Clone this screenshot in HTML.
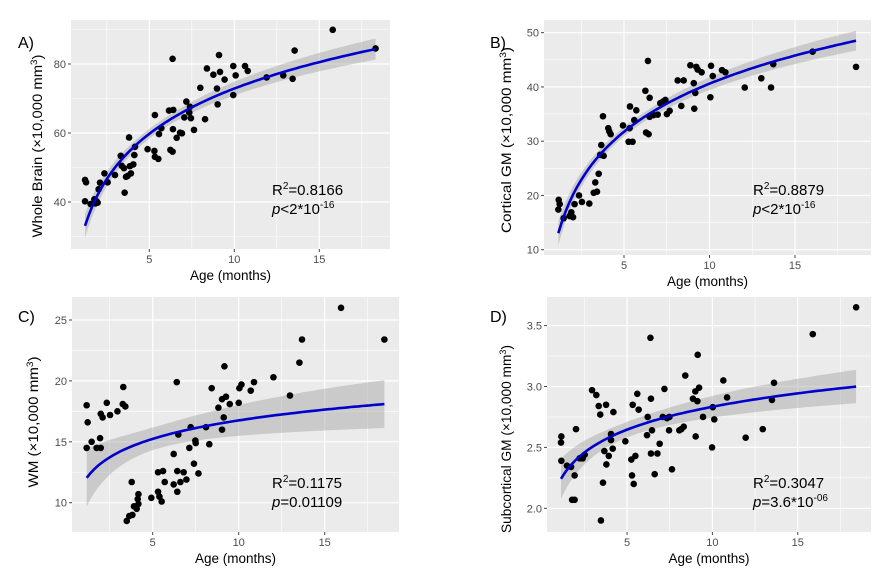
<!DOCTYPE html>
<html><head><meta charset="utf-8"><style>
body{margin:0;background:#fff;}
svg{display:block;font-family:"Liberation Sans",Arial,sans-serif;}
</style></head><body>
<svg id="fig" width="894" height="571" viewBox="0 0 894 571"></svg>
<script>
// Panel A: whole brain
const ageA=[1.22,1.28,1.22,1.55,1.77,1.83,1.90,1.96,2.02,2.10,2.36,2.55,2.98,3.32,3.38,3.51,3.55,3.63,3.73,3.81,3.86,3.92,4.06,4.12,4.16,4.90,5.33,5.30,5.33,5.53,5.57,5.71,6.16,6.24,6.37,6.37,6.39,6.41,6.61,6.81,6.92,7.06,7.18,7.35,7.39,7.45,7.63,8.00,8.28,8.39,8.77,8.98,9.02,9.10,9.16,9.43,9.94,9.94,10.08,10.63,10.79,11.90,12.88,13.43,13.55,15.79,18.31];
const valA=[46.4,45.7,40.2,39.4,40.8,39.6,40.2,39.8,43.7,45.6,48.3,45.7,47.8,53.4,50.5,49.8,42.7,47.3,47.6,58.7,50.4,48.3,50.9,53.6,56.0,55.3,65.2,54.8,53.1,52.5,59.7,61.4,66.5,55.1,54.6,81.5,61.1,66.7,58.6,60.1,59.9,64.5,69.1,65.9,67.6,64.3,60.9,73.1,64.0,78.7,76.9,72.9,68.3,82.6,77.7,75.5,79.4,71.0,76.7,79.4,78.0,76.1,76.7,75.7,83.9,89.9,84.5];
// Panel B: cortical GM
const ageB=[1.18,1.24,1.16,1.47,1.82,1.92,2.02,2.11,2.37,2.54,2.97,3.23,3.32,3.42,3.52,3.61,3.67,3.81,3.77,4.08,4.14,4.22,4.94,5.33,5.35,5.27,5.50,5.60,5.72,6.25,6.29,6.40,6.44,6.50,6.50,6.73,6.97,7.12,7.28,7.42,7.51,7.67,8.14,8.35,8.49,8.88,9.08,9.11,9.17,9.23,9.31,9.54,10.05,10.09,10.19,10.73,10.93,12.06,13.03,13.60,13.73,16.03,18.57];
const valB=[19.2,18.4,17.4,15.8,16.2,16.9,16.0,18.4,20.0,18.8,18.5,20.5,22.4,20.7,24.0,27.5,29.3,27.3,34.6,32.4,31.8,31.3,32.9,32.4,36.4,29.9,29.9,33.9,35.7,39.3,31.6,44.8,31.3,38.0,34.5,34.8,34.9,37.0,37.3,37.6,35.0,35.6,41.2,36.5,41.2,44.0,40.7,36.0,38.9,43.7,43.2,42.7,38.1,43.9,42.0,43.1,42.7,39.9,41.6,39.9,44.2,46.5,43.7];
// Panel C: WM
const ageC=[1.16,1.22,1.16,1.45,1.74,1.94,1.98,1.98,2.09,2.33,2.52,2.95,3.29,3.26,3.41,3.49,3.64,3.78,3.82,3.91,4.07,4.13,4.17,4.17,4.92,5.31,5.31,5.39,5.52,5.60,5.70,6.22,6.22,6.40,6.43,6.43,6.49,6.61,6.80,6.96,7.13,7.21,7.40,7.48,7.50,7.66,8.10,8.29,8.43,8.82,9.03,9.03,9.13,9.17,9.26,9.48,10.00,10.04,10.16,10.70,10.89,12.02,12.98,13.53,13.68,15.95,18.47];
const valC=[18.0,16.6,14.5,15.0,14.5,15.3,17.3,14.5,17.0,18.2,17.2,17.5,19.5,18.1,17.9,8.5,8.9,11.7,9.0,9.7,9.5,10.3,10.7,9.9,10.4,12.5,10.9,10.5,10.1,12.6,11.7,14.0,11.5,19.9,12.6,10.9,15.6,11.7,12.5,11.9,14.5,16.2,13.2,15.1,14.9,12.4,16.2,14.8,19.4,17.8,18.5,16.0,17.0,21.2,18.7,18.1,18.2,19.4,19.7,19.2,19.9,20.3,18.8,21.5,23.4,26.0,23.4];
// Panel D: subcortical GM
const ageD=[1.15,1.13,1.15,1.48,1.72,1.78,1.93,1.93,2.01,2.22,2.40,2.52,2.95,3.20,3.34,3.43,3.47,3.59,3.67,3.77,3.79,3.93,4.06,4.06,4.16,4.20,4.90,5.25,5.29,5.33,5.39,5.49,5.60,5.68,6.17,6.21,6.37,6.40,6.40,6.46,6.62,6.78,6.91,7.19,7.09,7.34,7.46,7.48,7.63,8.06,8.18,8.32,8.41,8.86,9.00,9.02,9.12,9.14,9.22,9.45,9.98,10.02,10.11,10.64,10.86,11.95,12.95,13.49,13.61,15.88,18.42];
const valD=[2.59,2.54,2.39,2.35,2.34,2.07,2.07,2.27,2.65,2.41,2.41,2.44,2.97,2.93,2.84,2.77,1.90,2.21,2.47,2.85,2.36,2.43,2.61,2.56,2.49,2.79,2.55,2.40,2.27,2.85,2.20,2.43,2.94,2.81,2.60,2.75,3.40,2.90,2.45,2.64,2.28,2.45,2.53,2.98,2.75,2.74,2.64,2.75,2.32,2.64,2.65,2.67,3.09,2.90,2.96,2.59,2.88,3.26,2.99,2.75,2.50,2.83,2.73,3.05,2.91,2.58,2.65,2.89,3.03,3.43,3.65];
const xTicks=[5,10,15];
const yTicksA=[40,60,80], yTicksB=[10,20,30,40,50], yTicksC=[10,15,20,25], yTicksD=[2.0,2.5,3.0,3.5];
const yLabelsD=["2.0","2.5","3.0","3.5"];
const NS="http://www.w3.org/2000/svg";
const fig=document.getElementById('fig');
function mk(tag,attrs,parent){const e=document.createElementNS(NS,tag);for(const k in attrs)e.setAttribute(k,attrs[k]);(parent||fig).appendChild(e);return e;}

function panel(cfg){
  const g=mk('g',{});
  
  
  const {L,R,T,B,x0,xpm,yRef,yRefPx,ypu}=cfg;
  const sx=v=>x0+v*xpm, sy=v=>yRefPx-(v-yRef)*ypu;
  const bg=mk('rect',{x:L,y:T,width:R-L,height:B-T,fill:'#ebebeb'},g);
  
  
  const yMax=yRef+(yRefPx-T)/ypu;
  const step=cfg.yt[1]-cfg.yt[0];
  for(let v=2.5;v<20;v+=5){const x=sx(v);if(x>L&&x<R)mk('line',{x1:x,x2:x,y1:T,y2:B,stroke:'#fff','stroke-width':0.6},g);}
  for(let v=cfg.yt[0]-step*3;v<yMax+step;v+=step){const y=sy(v+step/2);if(y>T&&y<B)mk('line',{x1:L,x2:R,y1:y,y2:y,stroke:'#fff','stroke-width':0.6},g);}
  xTicks.forEach(v=>{const x=sx(v);
    mk('line',{x1:x,x2:x,y1:T,y2:B,stroke:'#fff','stroke-width':1.2},g);
    mk('line',{x1:x,x2:x,y1:B,y2:B+3,stroke:'#444','stroke-width':1},g);
    const t=mk('text',{x:x,y:B+14,'text-anchor':'middle','font-size':11,fill:'#4d4d4d'},g);t.textContent=v;
    
    });
  cfg.yt.forEach((v,i)=>{const y=sy(v);
    mk('line',{x1:L,x2:R,y1:y,y2:y,stroke:'#fff','stroke-width':1.2},g);
    mk('line',{x1:L-3,x2:L,y1:y,y2:y,stroke:'#444','stroke-width':1},g);
    const t=mk('text',{x:L-5,y:y+4,'text-anchor':'end','font-size':11,fill:'#4d4d4d'},g);t.textContent=cfg.yl?cfg.yl[i]:v;
    
    });
  const xs=cfg.ages, ys=cfg.vals, n=xs.length;
  const lx=xs.map(Math.log);
  const mx=lx.reduce((s,v)=>s+v,0)/n, my=ys.reduce((s,v)=>s+v,0)/n;
  let sxx=0,sxy=0;for(let i=0;i<n;i++){sxx+=(lx[i]-mx)**2;sxy+=(lx[i]-mx)*(ys[i]-my);}
  const b=sxy/sxx,a=my-b*mx;
  let sse=0;for(let i=0;i<n;i++)sse+=(ys[i]-a-b*lx[i])**2;
  const s=Math.sqrt(sse/(n-2)), tq=1.99;
  const xmin=Math.min(...xs), xmax=Math.max(...xs);
  const up=[],lo=[],ln=[];
  for(let k=0;k<=80;k++){const x=xmin+(xmax-xmin)*k/80, l=Math.log(x);
    const f=a+b*l, se=s*Math.sqrt(1/n+(l-mx)**2/sxx);
    ln.push(sx(x).toFixed(1)+','+sy(f).toFixed(1));
    up.push(sx(x).toFixed(1)+','+sy(f+tq*se).toFixed(1));
    lo.unshift(sx(x).toFixed(1)+','+sy(f-tq*se).toFixed(1));}
  const band=mk('polygon',{points:up.concat(lo).join(' '),fill:'#999','fill-opacity':0.4},g);
  
  
  for(let i=0;i<n;i++){const c=mk('circle',{cx:sx(xs[i]),cy:sy(ys[i]),r:3.3,fill:'#000'},g);
    
    }
  const fl=mk('polyline',{points:ln.join(' '),fill:'none',stroke:'#0000cd','stroke-width':2.6},g);
  
  
  const xt=mk('text',{x:(L+R)/2,y:B+31,'text-anchor':'middle','font-size':13.5,fill:'#000'},g);xt.textContent='Age (months)';
  
  
  const yt=mk('text',{x:0,y:0,'text-anchor':'middle','font-size':13.5,fill:'#000',textLength:cfg.ytl,lengthAdjust:'spacingAndGlyphs',transform:`translate(${cfg.ytx},${cfg.ytc}) rotate(-90)`},g);
  yt.innerHTML=cfg.ytitle+' (×10,000 mm<tspan dy="-5" font-size="9">3</tspan><tspan dy="5">)</tspan>';
  
  
  const pl=mk('text',{x:cfg.plx,y:cfg.ply,'font-size':16,fill:'#000'},g);pl.textContent=cfg.label;
  
  
  const r2=mk('text',{x:cfg.ax,y:cfg.ay,'font-size':15,fill:'#000'},g);
  r2.innerHTML='R<tspan dy="-6" font-size="10">2</tspan><tspan dy="6">='+cfg.r2+'</tspan>';
  
  
  const pv=mk('text',{x:cfg.ax,y:cfg.ay+19,'font-size':15,fill:'#000'},g);
  pv.innerHTML='<tspan font-style="italic">p</tspan>'+cfg.p;
  
  
}
panel({name:'panel-a-whole-brain',L:71,R:390,T:20,B:249,x0:64.3,xpm:17,yRef:40,yRefPx:202,ypu:3.45,yt:yTicksA,ages:ageA,vals:valA,ytx:42,ytc:146,ytl:183,ytitle:'Whole Brain',label:'A)',plx:18,ply:48,ax:272,ay:195,r2:'0.8166',p:'&lt;2*10<tspan dy="-6" font-size="10">-16</tspan>'});
panel({name:'panel-b-cortical-gm',L:544,R:871,T:20,B:255,x0:538.5,xpm:17.1,yRef:10,yRefPx:249.7,ypu:5.425,yt:yTicksB,ages:ageB,vals:valB,ytx:511,ytc:140,ytl:186,ytitle:'Cortical GM',label:'B)',plx:490,ply:48,ax:753,ay:195,r2:'0.8879',p:'&lt;2*10<tspan dy="-6" font-size="10">-16</tspan>'});
panel({name:'panel-c-wm',L:72,R:399,T:297,B:532,x0:66.7,xpm:17.2,yRef:10,yRefPx:502.7,ypu:12.18,yt:yTicksC,ages:ageC,vals:valC,ytx:38,ytc:422,ytl:131,ytitle:'WM',label:'C)',plx:18,ply:322,ax:272,ay:488,r2:'0.1175',p:'=0.01109'});
panel({name:'panel-d-subcortical-gm',L:547,R:871,T:297,B:532,x0:541.7,xpm:17.07,yRef:2,yRefPx:508.3,ypu:121.8,yt:yTicksD,yl:yLabelsD,ages:ageD,vals:valD,ytx:511,ytc:439,ytl:188,ytitle:'Subcortical GM',label:'D)',plx:490,ply:322,ax:753,ay:488,r2:'0.3047',p:'=3.6*10<tspan dy="-6" font-size="10">-06</tspan>'});
</script>
</body></html>
